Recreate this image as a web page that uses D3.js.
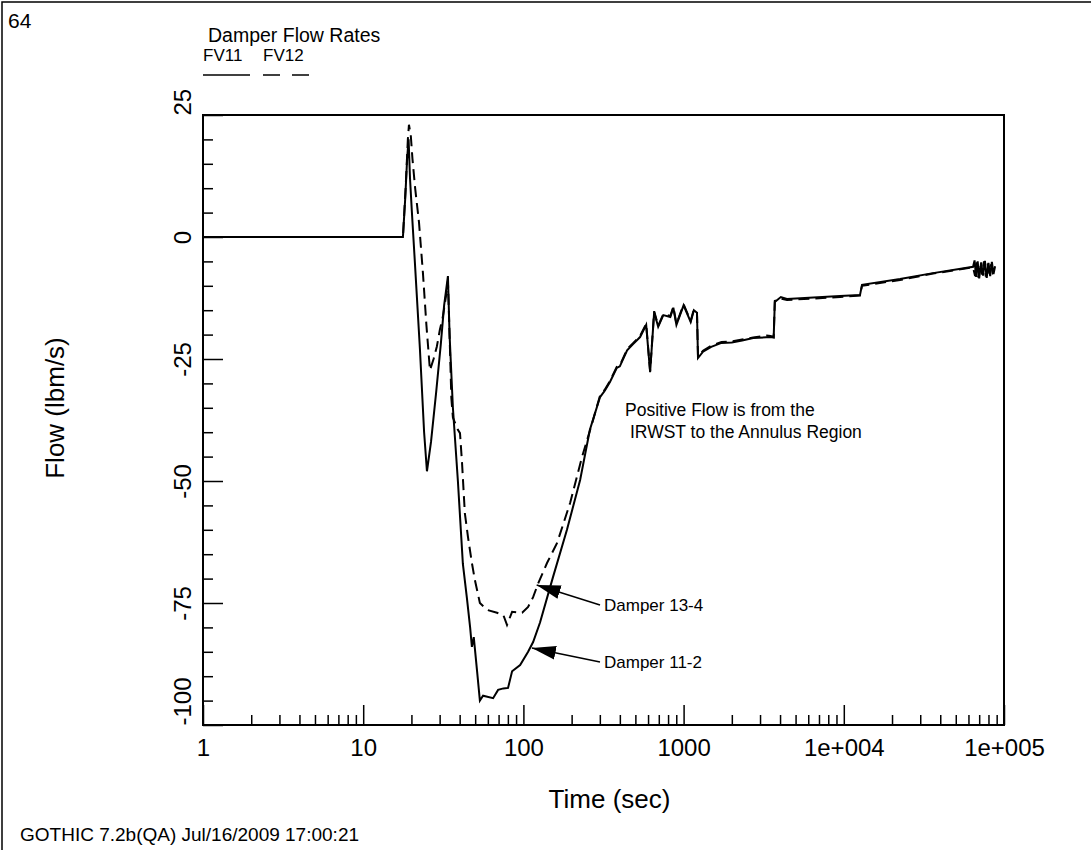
<!DOCTYPE html>
<html>
<head>
<meta charset="utf-8">
<script src="https://cdn.jsdelivr.net/npm/d3@7"></script>
<style>
  body { margin: 0; background: #fff; }
  svg text { font-family: "Liberation Sans", Arial, Helvetica, sans-serif; fill: #000; }
</style>
</head>
<body>
<div id="chart"></div>
<script>
// series (time in sec, flow in lbm/s)
var seriesNames = ["FV11", "FV12"];

var fv11Time = [1, 17.7, 18.3, 18.8, 19.2, 19.6, 20.1, 21.0, 22.6, 24.0, 25.0, 26.5, 28.5, 30.5, 32.0, 33.8,
    34.6, 36.3, 39.0, 41.9, 44.4, 46.5, 47.7, 49.0, 51.4, 53.5, 56, 64.7, 69.5, 75, 80.2, 85.0, 95.4, 107, 115, 127,
    153, 187, 226, 260, 301, 322, 347, 383, 400, 444, 482, 535, 584, 618, 655, 694, 747, 826, 863, 902,
    1000, 1107, 1159, 1212, 1230, 1322, 1487, 1724, 2000, 2320, 2718, 3491, 3650, 3710, 4046, 4420, 9470,
    12620, 12990, 22440, 36060, 64100, 65500, 67000, 68500, 70000, 72000, 74000, 76000, 78000, 80000,
    82000, 84000, 86000, 88000];
var fv11Flow = [0, 0, 8, 16, 20, 12, 5.5, -5, -23, -40, -48, -42, -32, -22, -14, -8,
    -20, -35, -50, -67, -74, -80, -84, -82, -89, -95, -94, -94.5, -92.8, -92.5, -92.4, -89, -87.7, -85, -83, -79,
    -69.7, -60, -49.8, -39.5, -32.8, -31.5, -29.7, -26.8, -26.5, -23.2, -22, -20.5, -18, -27.7, -15.4, -18.4, -16, -16.4, -14.5, -18,
    -14, -17.4, -15, -15.5, -24.8, -23.5, -22.5, -21.7, -21.6, -21.2, -20.7, -20.5, -20.6, -13.3, -12.3, -12.7, -12.1,
    -11.9, -9.8, -8.6, -7.4, -6.1, -4.8, -8.2, -5.0, -8.5, -5.2, -7.9, -4.9, -8.4, -5.3,
    -8.0, -5.1, -7.6, -6.0];

var fv12Time = [1, 17.7, 18.4, 19.0, 19.3, 19.8, 20.3, 21.1, 22.3, 23.6, 24.8, 26.1, 27.5, 28.8, 30.1, 31.4,
    33.3, 33.8, 34.6, 35.5, 36.3, 39.0, 40.2, 41.4, 43.1, 45.1, 47.7, 49.8, 53.5, 59.2, 68.4, 75, 79.0,
    85.0, 98.2, 107, 115, 123.6, 140.4, 162.3, 195.7, 232.6, 268.9, 301, 322, 347, 383, 400, 444, 482,
    535, 584, 618, 655, 694, 747, 826, 863, 902, 1000, 1107, 1159, 1212, 1230, 1322, 1487, 1724, 2000,
    2320, 2718, 3300, 3491, 3650, 3710, 4046, 4420, 9470, 12620, 12990, 22440, 36060, 64100, 66000,
    67500, 69000, 71000, 73000, 75000, 77000, 79000, 81000, 83000, 85000, 87500];
var fv12Flow = [0, 0, 10, 20, 23, 21, 16, 10, 3, -7.4, -18, -27.3, -25, -22.5, -19, -16.4,
    -10.9, -9, -20, -33, -37, -39.5, -40.2, -46.3, -56.6, -61.5, -66.8, -70.3, -75, -76.4, -77, -77.5, -79.5,
    -76.8, -77, -75.8, -73.8, -71, -66.8, -62.7, -54.5, -45, -38.1, -32.5, -31.3, -29.5, -26.6, -26.3, -23, -21.8,
    -20.3, -17.8, -27.5, -15.2, -18.2, -15.8, -16.2, -14.3, -17.8, -13.8, -17.2, -14.8, -15.3, -24.6, -23.3, -22.3, -21.5, -21.4,
    -21, -20.6, -20.2, -20.3, -20.5, -13.1, -12.6, -12.9, -12.3, -12.0, -10.0, -8.8, -7.5, -6.2, -8.0,
    -5.2, -8.3, -5.5, -7.7, -5.0, -8.1, -5.4, -7.5, -5.6, -7.2, -6.3];

var xTickValues = [1, 10, 100, 1000, 1e4, 1e5];
var xTickLabels = ["1", "10", "100", "1000", "1e+004", "1e+005"];
var yTickValues = [25, 0, -25, -50, -75, -100];
var yTickLabels = ["25", "0", "-25", "-50", "-75", "-100"];

var svgWidth = 1091;
var svgHeight = 850;

var margin = { top: 115, right: 87, bottom: 125, left: 203 };
var width = svgWidth - margin.left - margin.right;
var height = svgHeight - margin.top - margin.bottom;

var svg = d3.select("#chart")
    .append("svg")
    .attr("width", svgWidth)
    .attr("height", svgHeight);

svg.append("rect")
    .attr("width", svgWidth)
    .attr("height", svgHeight)
    .attr("fill", "#fff");

// page frame (left and top edges show in the picture)
svg.append("path")
    .attr("d", "M2,850 L2,2 L1091,2")
    .attr("fill", "none")
    .attr("stroke", "#000")
    .attr("stroke-width", 1.5);

svg.append("text").attr("x", 8).attr("y", 28).attr("font-size", 21).text("64");
svg.append("text").attr("x", 208).attr("y", 42).attr("font-size", 19.5).text("Damper Flow Rates");
svg.append("text").attr("x", 20).attr("y", 841).attr("font-size", 19).text("GOTHIC 7.2b(QA) Jul/16/2009 17:00:21");

var chartGroup = svg.append("g")
    .attr("transform", `translate(${margin.left}, ${margin.top})`);

var xLogScale = d3.scaleLog().domain([1, 1e5]).range([0, width]);
var yLinearScale = d3.scaleLinear().domain([-100, 25]).range([height, 0]);

// minor ticks
var xMinor = [];
xTickValues.slice(0, -1).forEach(function(d) {
    for (var k = 2; k <= 9; k++) xMinor.push(d * k);
});
var yMinor = d3.range(-95, 25, 5).filter(d => d % 25 !== 0);

chartGroup.append("g")
    .attr("transform", `translate(0, ${height})`)
    .call(d3.axisBottom(xLogScale).tickValues(xMinor).tickSize(-10).tickFormat(""))
    .call(g => g.select(".domain").remove());

chartGroup.append("g")
    .call(d3.axisLeft(yLinearScale).tickValues(yMinor).tickSize(-10).tickFormat(""))
    .call(g => g.select(".domain").remove());

var xAxis = chartGroup.append("g")
    .attr("transform", `translate(0, ${height})`)
    .call(d3.axisBottom(xLogScale)
        .tickValues(xTickValues)
        .tickSize(-20)
        .tickPadding(14)
        .tickFormat((d, i) => xTickLabels[i]))
    .call(g => g.select(".domain").remove());
xAxis.selectAll("text").attr("font-size", 24).attr("font-family", null);

var yAxis = chartGroup.append("g")
    .call(d3.axisLeft(yLinearScale)
        .tickValues(yTickValues)
        .tickSize(-20)
        .tickFormat((d, i) => yTickLabels[i]))
    .call(g => g.select(".domain").remove());
yAxis.selectAll("text")
    .attr("font-size", 24)
    .attr("font-family", null)
    .attr("transform", "rotate(-90)")
    .attr("x", 0)
    .attr("y", -12)
    .attr("dy", 0)
    .attr("text-anchor", (d, i) => i === 0 || i === yTickValues.length - 1 ? "start" : "middle");

chartGroup.selectAll(".tick line").attr("stroke", "#000").attr("stroke-width", 1.5);

// plot box
chartGroup.append("rect")
    .attr("width", width)
    .attr("height", height)
    .attr("fill", "none")
    .attr("stroke", "#000")
    .attr("stroke-width", 2);

svg.append("text")
    .attr("x", margin.left + width / 2 + 6)
    .attr("y", 808)
    .attr("text-anchor", "middle")
    .attr("font-size", 26)
    .text("Time (sec)");

svg.append("text")
    .attr("transform", `translate(64, ${margin.top + height / 2 - 12}) rotate(-90)`)
    .attr("text-anchor", "middle")
    .attr("font-size", 26)
    .text("Flow (lbm/s)");

var line = d3.line()
    .x(d => xLogScale(d[0]))
    .y(d => yLinearScale(d[1]));

var fv11 = d3.zip(fv11Time, fv11Flow);
var fv12 = d3.zip(fv12Time, fv12Flow);

chartGroup.append("path")
    .datum(fv12)
    .attr("d", line)
    .attr("fill", "none")
    .attr("stroke", "#000")
    .attr("stroke-width", 2)
    .attr("stroke-dasharray", "11,6");

chartGroup.append("path")
    .datum(fv11)
    .attr("d", line)
    .attr("fill", "none")
    .attr("stroke", "#000")
    .attr("stroke-width", 2);

// legend
var legend = svg.append("g").attr("transform", "translate(203, 0)");
seriesNames.forEach(function(name, i) {
    legend.append("text").attr("x", i * 60).attr("y", 61).attr("font-size", 17).text(name);
    legend.append("line")
        .attr("x1", i * 60).attr("x2", i * 60 + 47)
        .attr("y1", 75).attr("y2", 75)
        .attr("stroke", "#000")
        .attr("stroke-width", 1.5)
        .attr("stroke-dasharray", i === 1 ? "17,12" : null);
});

// notes
svg.append("text").attr("x", 625).attr("y", 416).attr("font-size", 17.5).text("Positive Flow is from the");
svg.append("text").attr("x", 630).attr("y", 438).attr("font-size", 17.5).text("IRWST to the Annulus Region");

svg.append("defs").append("marker")
    .attr("id", "head")
    .attr("viewBox", "0 0 24 14")
    .attr("markerUnits", "userSpaceOnUse")
    .attr("markerWidth", 24)
    .attr("markerHeight", 14)
    .attr("refX", 24)
    .attr("refY", 7)
    .attr("orient", "auto")
    .append("path")
    .attr("d", "M0,0 L24,7 L0,14 Z")
    .attr("fill", "#000");

var notes = [
    { label: "Damper 13-4", t: 121, v: -71.3, tx: 604, ty: 611 },
    { label: "Damper 11-2", t: 113, v: -84.2, tx: 604, ty: 668 }
];
notes.forEach(function(n) {
    svg.append("line")
        .attr("x1", n.tx - 4).attr("y1", n.ty - 6)
        .attr("x2", margin.left + xLogScale(n.t))
        .attr("y2", margin.top + yLinearScale(n.v))
        .attr("stroke", "#000")
        .attr("stroke-width", 1.5)
        .attr("marker-end", "url(#head)");
    svg.append("text").attr("x", n.tx).attr("y", n.ty).attr("font-size", 17).text(n.label);
});
</script>
</body>
</html>
